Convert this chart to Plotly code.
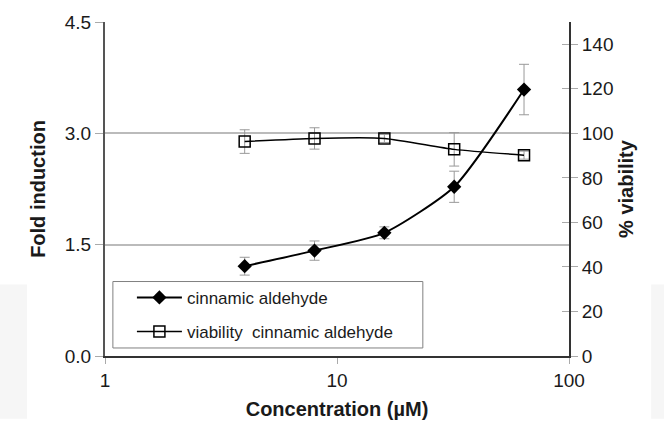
import plotly.graph_objects as go

conc = [4, 8, 16, 32, 64]
fold = [1.21, 1.42, 1.66, 2.28, 3.59]
fold_err = [0.12, 0.13, 0.08, 0.21, 0.34]
viab = [96.3, 97.7, 97.7, 92.8, 90.2]
viab_err = [5.3, 4.8, 1.8, 7.5, 1.8]
y_ticks = [0.0, 1.5, 3.0, 4.5]
y2_ticks = [0, 20, 40, 60, 80, 100, 120, 140]
x_ticks = [1, 10, 100]

FONT = "Liberation Sans, Arial, sans-serif"

fig = go.Figure()
fig.add_trace(go.Scatter(
    x=conc, y=fold, name="cinnamic aldehyde", mode="lines+markers",
    line=dict(color="black", width=2, shape="spline", smoothing=0.6),
    marker=dict(symbol="diamond", size=11, color="black"),
    error_y=dict(type="data", array=fold_err, color="#999999", thickness=1, width=5),
    legendgroup="a",
))
fig.add_trace(go.Scatter(
    x=conc, y=viab, name="viability  cinnamic aldehyde", mode="lines+markers",
    yaxis="y2",
    line=dict(color="black", width=1.5, shape="spline", smoothing=0.6),
    marker=dict(symbol="square-open", size=11, color="black", line=dict(width=1.5)),
    error_y=dict(type="data", array=viab_err, color="#999999", thickness=1, width=5),
    legendgroup="b",
))
# invisible helper trace to create inside tick marks on the right axis (cross ticks)
fig.add_trace(go.Scatter(x=[conc[0]], y=[viab[0]], yaxis="y3", mode="markers",
                         marker=dict(opacity=0), showlegend=False, hoverinfo="skip"))

# faint grey strips at edges
for x0, x1 in [(-0.2263, -0.168), (1.177, 1.21)]:
    fig.add_shape(type="rect", xref="paper", yref="paper", x0=x0, x1=x1,
                  y0=-0.188, y1=0.214, fillcolor="#f6f6f6", line_width=0, layer="below")

# legend box
fig.add_shape(type="rect", xref="paper", yref="paper", x0=0.017, x1=0.685,
              y0=0.024, y1=0.223, fillcolor="white",
              line=dict(color="#808080", width=1), layer="above")

fig.update_layout(
    width=664, height=432,
    margin=dict(l=105, r=95, t=15, b=76),
    paper_bgcolor="white", plot_bgcolor="white",
    font=dict(family=FONT, size=19, color="#1a1a1a"),
    showlegend=True,
    legend=dict(x=0.058, y=0.228, xanchor="left", yanchor="top",
                bgcolor="rgba(0,0,0,0)", borderwidth=0,
                font=dict(size=17, family=FONT, color="#1a1a1a"),
                traceorder="grouped", tracegroupgap=9, itemwidth=45),
    xaxis=dict(type="log", range=[0, 2], tickvals=x_ticks, ticktext=["1", "10", "100"],
               showgrid=False, showline=True, linecolor="#333333", linewidth=2,
               ticks="outside", tickcolor="#aaaaaa", ticklen=6,
               tickfont=dict(size=19),
               title=dict(text="<b>Concentration (µM)</b>", font=dict(size=20), standoff=12),
               zeroline=False),
    yaxis=dict(range=[0, 4.5], tickvals=y_ticks, ticktext=["0.0", "1.5", "3.0", "4.5"],
               showgrid=True, gridcolor="#bbbbbb", gridwidth=1.5,
               showline=True, linecolor="#555555", linewidth=2,
               ticks="outside", tickcolor="#aaaaaa", ticklen=8,
               tickfont=dict(size=19),
               title=dict(text="<b>Fold induction</b>", font=dict(size=20), standoff=14),
               zeroline=False),
    yaxis2=dict(range=[0, 150], tickvals=y2_ticks, overlaying="y", side="right",
                showgrid=False, showline=True, linecolor="#333333", linewidth=2,
                ticks="outside", tickcolor="#aaaaaa", ticklen=7,
                tickfont=dict(size=19),
                title=dict(text="<b>% viability</b>", font=dict(size=20), standoff=6),
                zeroline=False),
    yaxis3=dict(range=[0, 150], tickvals=y2_ticks, overlaying="y", side="right",
                showgrid=False, showline=False, showticklabels=False,
                ticks="inside", tickcolor="#aaaaaa", ticklen=7, zeroline=False),
)

fig.write_html("out.html")
